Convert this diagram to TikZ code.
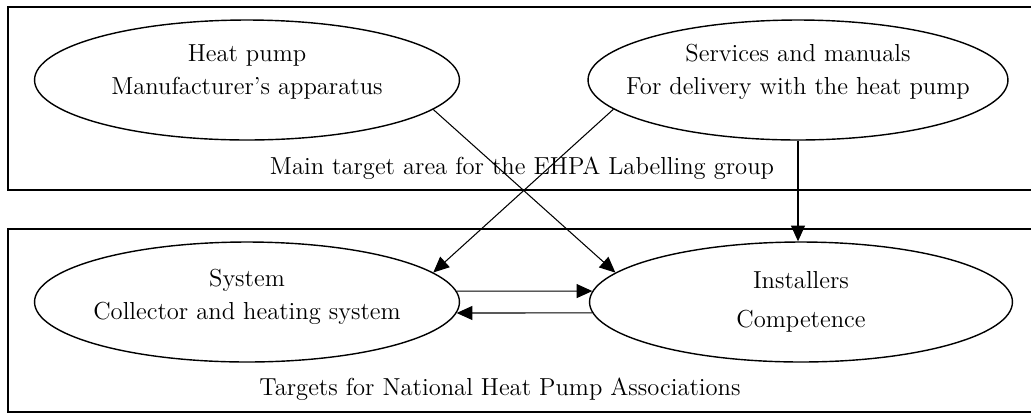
\documentclass[tikz,border=0pt]{standalone}
\usetikzlibrary{positioning,arrows.meta,shapes.geometric}

\begin{document}
\begin{tikzpicture}[x=0.02cm, y=-0.02cm,
    every node/.style={font=\fontsize{14}{19}\selectfont},
    goal/.style={ellipse, draw, line width=0.8pt, inner sep=0pt,
                 minimum width=8.5cm, minimum height=2.4cm},
    goaltext/.style={align=center, inner sep=0pt},
    area/.style={draw, line width=1.1pt},
    flow/.style={-{Triangle[length=9pt,width=8pt]}, line width=0.6pt}]
    \clip (0,0) rectangle (1031,414);
    % the two target areas
    \draw[area] (8,7) rectangle (1040,190);
    \draw[area] (8,229) rectangle (1040,412);
    \node (mainlbl) at (522,168) {Main target area for the EHPA Labelling group};
    \node (natlbl) at (500,389) {Targets for National Heat Pump Associations};
    % upper row
    \node[goal] (pump) at (247,80) {};
    \node[goaltext] (pumptxt) at (247,72) {Heat pump\\Manufacturer's apparatus};
    \node[goal, minimum width=8.4cm] (serv) at (798,80) {};
    \node[goaltext] (servtxt) at (798,72) {Services and manuals\\For delivery with the heat pump};
    % lower row
    \node[goal] (sys) at (247,302) {};
    \node[goaltext] (systxt) at (247,297) {System\\Collector and heating system};
    \node[goal, minimum width=8.46cm] (inst) at (801,302) {};
    \node[goaltext] (insttxt) at (801,302) {Installers\\[3pt]Competence};
    % connections
    \draw[flow] (pump.-9) -- (inst.171);
    \draw[flow] (serv.-171) -- (sys.9);
    \draw[flow] (serv.south) -- (serv.south |- inst.north);
    \draw[flow] (sys.3) -- (inst.177);
    \draw[flow] (inst.-177) -- (sys.-3);
\end{tikzpicture}
\end{document}
